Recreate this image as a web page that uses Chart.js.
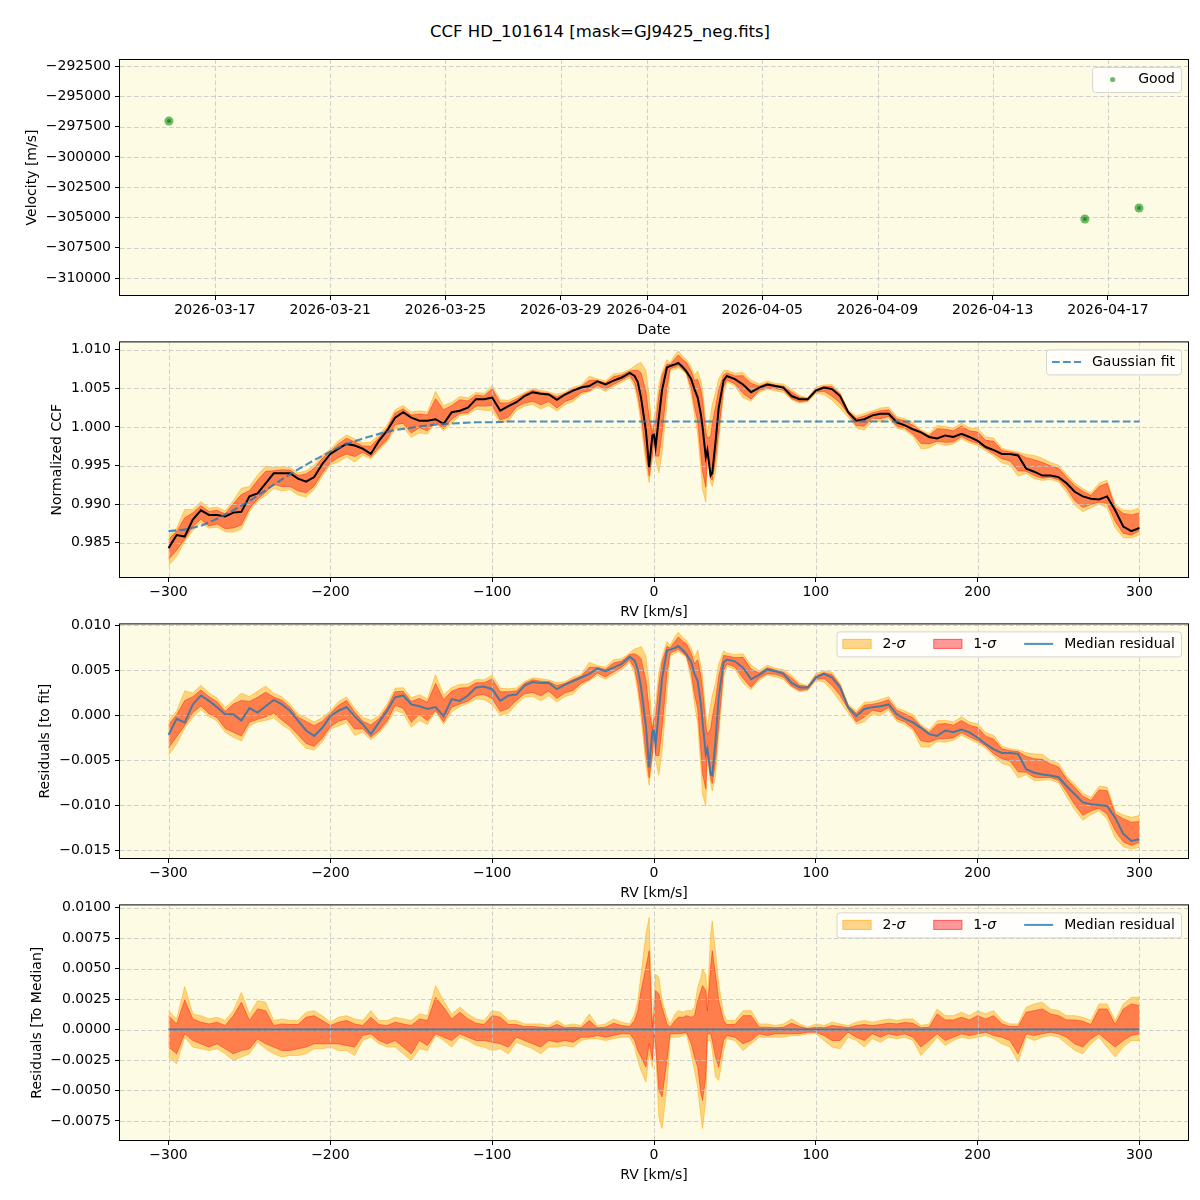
<!DOCTYPE html>
<html>
<head>
<meta charset="utf-8">
<title>CCF HD_101614</title>
<script src="https://cdn.jsdelivr.net/npm/chart.js@4.4.1/dist/chart.umd.min.js"></script>
<style>
    html, body { margin: 0; padding: 0; background: #fff; }
    body { position: relative; width: 1200px; height: 1200px; overflow: hidden; font-family: "DejaVu Sans", sans-serif; }
    #title { position: absolute; left: 0; top: 22px; width: 1200px; text-align: center; font-size: 16.5px; line-height: 20px; color: #000; }
    canvas { position: absolute; left: 0; }
</style>
</head>
<body>
<div id="title">CCF HD_101614 [mask=GJ9425_neg.fits]</div>
<canvas id="chart-rv" width="1200" height="340" style="top:0px"></canvas>
<canvas id="chart-ccf" width="1200" height="292" style="top:330px"></canvas>
<canvas id="chart-res" width="1200" height="291" style="top:612px"></canvas>
<canvas id="chart-med" width="1200" height="307" style="top:893px"></canvas>
<script>
// ---- top panel: epoch velocities ----
const obsDates = ['2026-03-15T09:36:00Z', '2026-04-16T04:48:00Z', '2026-04-18T01:55:00Z'];
const obsVelocity = [-297040, -305130, -304220];
const dateTicks = ['2026-03-17', '2026-03-21', '2026-03-25', '2026-03-29', '2026-04-01',
    '2026-04-05', '2026-04-09', '2026-04-13', '2026-04-17'];
const velocityTicks = [-292500, -295000, -297500, -300000, -302500, -305000, -307500, -310000];

// ---- CCF profile grid (km/s) ----
const rv = [
    -300, -295, -290, -285, -280, -275, -270, -265, -260, -255,
    -250, -245, -240, -235, -230, -225, -220, -215, -210, -205,
    -200, -195, -190, -185, -180, -175, -170, -165, -160, -155,
    -150, -145, -140, -135, -130, -125, -120, -115, -110, -105,
    -100, -95, -90, -85, -80, -75, -70, -65, -60, -55,
    -50, -45, -40, -35, -30, -25, -20, -15,
    -12, -10, -8, -5, -3, -1, 0, 1, 3, 5,
    8, 10, 13, 15, 18, 20, 23, 25, 27, 29,
    30, 32, 33, 35, 36, 38, 40, 43, 45,
    50, 55, 60, 65, 70, 75, 80, 85, 90, 95,
    100, 105, 110, 115, 120, 125, 130, 135, 140, 145,
    150, 155, 160, 165, 170, 175, 180, 185, 190, 195,
    200, 205, 210, 215, 220, 225, 230, 235, 240, 245,
    250, 255, 260, 265, 270, 275, 280, 285, 290, 295, 300
];

// median normalized CCF
const ccfMedian = [
    0.9843, 0.9860, 0.9858, 0.9880, 0.9892, 0.9886, 0.9886, 0.9884, 0.9889, 0.9890,
    0.9910, 0.9914, 0.9927, 0.9940, 0.9940, 0.9940, 0.9933, 0.9929, 0.9935, 0.9952,
    0.9965, 0.9972, 0.9978, 0.9976, 0.9972, 0.9965, 0.9982, 0.9995, 1.0012, 1.0019,
    1.0012, 1.0008, 1.0008, 1.0010, 1.0004, 1.0019, 1.0021, 1.0025, 1.0036, 1.0036,
    1.0038, 1.0021, 1.0027, 1.0032, 1.0040, 1.0045, 1.0043, 1.0042, 1.0035, 1.0042,
    1.0047, 1.0051, 1.0053, 1.0059, 1.0055, 1.0060, 1.0064, 1.0070,
    1.0066, 1.0058, 1.0038, 0.9995, 0.9948, 0.9989, 0.9990, 0.9974, 1.0012, 1.0048,
    1.0077, 1.0079, 1.0081, 1.0083, 1.0077, 1.0072, 1.0062, 1.0049, 1.0038, 1.0016,
    1.0000, 0.9961, 0.9970, 0.9937, 0.9940, 0.9980, 1.0025, 1.0060, 1.0066,
    1.0062, 1.0055, 1.0045, 1.0051, 1.0055, 1.0053, 1.0051, 1.0040, 1.0036, 1.0036,
    1.0047, 1.0051, 1.0049, 1.0040, 1.0019, 1.0008, 1.0010, 1.0015, 1.0017, 1.0017,
    1.0006, 1.0002, 0.9997, 0.9993, 0.9987, 0.9985, 0.9989, 0.9987, 0.9991, 0.9987,
    0.9982, 0.9974, 0.9970, 0.9965, 0.9965, 0.9963, 0.9946, 0.9942, 0.9937, 0.9937,
    0.9935, 0.9927, 0.9916, 0.9910, 0.9907, 0.9906, 0.9910, 0.9892, 0.9871, 0.9865, 0.9869
];

// gaussian fit, sampled every 10 km/s
const fitRv = [
    -300, -290, -280, -270, -260, -250, -240, -230, -220, -210,
    -200, -190, -180, -170, -160, -150, -140, -130, -120, -110,
    -100, -90, -80, -70, -60, -50, -40, -30, -20, -10,
    0, 10, 20, 30, 40, 50, 60, 70, 80, 90,
    100, 110, 120, 130, 140, 150, 160, 170, 180, 190,
    200, 210, 220, 230, 240, 250, 260, 270, 280, 290, 300
];
const fitCcf = [
    0.9865, 0.9867, 0.9872, 0.9881, 0.9892, 0.9904, 0.9918, 0.9932, 0.9945, 0.9957,
    0.9968, 0.9978, 0.9985, 0.9991, 0.9996, 0.9999, 1.0002, 1.0004, 1.0005, 1.0006,
    1.0006, 1.0007, 1.0007, 1.0007, 1.0007, 1.0007, 1.0007, 1.0007, 1.0007, 1.0007,
    1.0007, 1.0007, 1.0007, 1.0007, 1.0007, 1.0007, 1.0007, 1.0007, 1.0007, 1.0007,
    1.0007, 1.0007, 1.0007, 1.0007, 1.0007, 1.0007, 1.0007, 1.0007, 1.0007, 1.0007,
    1.0007, 1.0007, 1.0007, 1.0007, 1.0007, 1.0007, 1.0007, 1.0007, 1.0007, 1.0007, 1.0007
];

// median residual to the fit
const residualMedian = [
    -0.0022, -0.0004, -0.0008, 0.0012, 0.0022, 0.0016, 0.0009, 0.0001, 0.0001, -0.0006,
    0.0008, 0.0003, 0.0010, 0.0017, 0.0012, 0.0005, -0.0006, -0.0017, -0.0023, -0.0014,
    -0.0001, 0.0005, 0.0009, -0.0001, -0.0010, -0.0021, -0.0008, 0.0005, 0.0020, 0.0022,
    0.0012, 0.0010, 0.0007, 0.0009, -0.0001, 0.0018, 0.0016, 0.0022, 0.0031, 0.0032,
    0.0029, 0.0016, 0.0022, 0.0023, 0.0033, 0.0037, 0.0036, 0.0036, 0.0029, 0.0034,
    0.0038, 0.0042, 0.0046, 0.0052, 0.0049, 0.0053, 0.0057, 0.0065,
    0.0061, 0.0051, 0.0031, -0.0012, -0.0058, -0.0018, -0.0017, -0.0033, 0.0005, 0.0041,
    0.0072, 0.0073, 0.0075, 0.0077, 0.0072, 0.0068, 0.0059, 0.0046, 0.0038, 0.0012,
    -0.0007, -0.0043, -0.0037, -0.0066, -0.0067, -0.0029, 0.0020, 0.0059, 0.0062,
    0.0060, 0.0053, 0.0040, 0.0045, 0.0051, 0.0049, 0.0046, 0.0036, 0.0031, 0.0031,
    0.0042, 0.0046, 0.0042, 0.0031, 0.0009, -0.0001, 0.0007, 0.0009, 0.0010, 0.0012,
    0.0001, -0.0004, -0.0008, -0.0014, -0.0021, -0.0023, -0.0017, -0.0019, -0.0016, -0.0019,
    -0.0025, -0.0032, -0.0038, -0.0042, -0.0042, -0.0043, -0.0060, -0.0064, -0.0066, -0.0067,
    -0.0069, -0.0079, -0.0088, -0.0097, -0.0099, -0.0100, -0.0101, -0.0114, -0.0132, -0.0140, -0.0138
];

// spread around the median (bottom panel): 2-sigma / 1-sigma upper and lower edges
const sig2Hi = [
    .00155, .00087, .00352, .00128, .00114, .00087, .00101, .00074, .00155, .00305,
    .00128, .00237, .00224, .00074, .00087, .00074, .00074, .00142, .00155, .00114,
    .00060, .00101, .00114, .00087, .00074, .00155, .00074, .00074, .00101, .00087,
    .00074, .00128, .00114, .00360, .00237, .00128, .00183, .00128, .00087, .00074,
    .00155, .00142, .00074, .00074, .00046, .00046, .00046, .00033, .00074, .00033,
    .00046, .00033, .00128, .00033, .00046, .00087, .00060, .00046,
    .00128, .00237, .00455, .00782, .00919, .00046, .00237, .00455, .00428, .00237,
    .00101, .00046, .00128, .00155, .00142, .00155, .00155, .00183, .00346, .00428,
    .00496, .00455, .00237, .00782, .00891, .00646, .00373, .00128, .00074,
    .00074, .00155, .00155, .00046, .00046, .00033, .00046, .00087, .00046, .00019,
    .00046, .00033, .00060, .00046, .00033, .00060, .00074, .00060, .00074, .00087,
    .00074, .00087, .00087, .00033, .00046, .00169, .00114, .00114, .00142, .00114,
    .00155, .00128, .00155, .00074, .00046, .00046, .00183, .00210, .00224, .00169,
    .00155, .00114, .00114, .00101, .00074, .00210, .00210, .00074, .00210, .00264, .00264
];
const sig1Hi = [
    .00114, .00046, .00243, .00087, .00060, .00046, .00060, .00033, .00114, .00224,
    .00074, .00169, .00155, .00033, .00046, .00041, .00041, .00101, .00114, .00074,
    .00033, .00060, .00074, .00046, .00033, .00101, .00041, .00033, .00060, .00046,
    .00033, .00087, .00074, .00264, .00183, .00087, .00142, .00087, .00052, .00041,
    .00114, .00101, .00041, .00041, .00025, .00025, .00019, .00014, .00041, .00014,
    .00019, .00014, .00074, .00014, .00019, .00052, .00033, .00025,
    .00074, .00155, .00319, .00510, .00646, .00019, .00128, .00319, .00292, .00183,
    .00046, .00019, .00074, .00101, .00101, .00114, .00101, .00114, .00237, .00319,
    .00360, .00319, .00155, .00510, .00646, .00455, .00237, .00074, .00041,
    .00041, .00114, .00114, .00019, .00019, .00014, .00019, .00052, .00025, .00008,
    .00019, .00014, .00033, .00025, .00014, .00033, .00041, .00033, .00041, .00052,
    .00046, .00057, .00052, .00014, .00019, .00128, .00079, .00079, .00101, .00079,
    .00114, .00087, .00114, .00046, .00025, .00025, .00142, .00155, .00169, .00128,
    .00114, .00079, .00079, .00068, .00041, .00169, .00169, .00041, .00169, .00210, .00196
];
const sig1Lo = [
    -.00144, -.00199, -.00035, -.00090, -.00117, -.00144, -.00117, -.00158, -.00199, -.00172,
    -.00158, -.00076, -.00117, -.00144, -.00172, -.00172, -.00158, -.00144, -.00117, -.00117,
    -.00117, -.00117, -.00131, -.00144, -.00049, -.00035, -.00090, -.00117, -.00090, -.00144,
    -.00199, -.00090, -.00131, -.00035, -.00063, -.00090, -.00035, -.00063, -.00090, -.00090,
    -.00104, -.00117, -.00144, -.00063, -.00090, -.00117, -.00144, -.00090, -.00104, -.00090,
    -.00104, -.00063, -.00063, -.00049, -.00063, -.00049, -.00035, -.00035,
    -.00090, -.00172, -.00226, -.00308, -.00117, -.00254, -.00035, -.00117, -.00499, -.00553,
    -.00254, -.00035, -.00035, -.00035, -.00030, -.00022, -.00117, -.00226, -.00308, -.00526,
    -.00581, -.00390, -.00035, -.00035, -.00090, -.00226, -.00308, -.00090, -.00049,
    -.00063, -.00117, -.00090, -.00035, -.00049, -.00035, -.00035, -.00035, -.00035, -.00022,
    -.00022, -.00049, -.00090, -.00090, -.00022, -.00063, -.00090, -.00035, -.00063, -.00035,
    -.00049, -.00035, -.00063, -.00144, -.00090, -.00035, -.00090, -.00063, -.00035, -.00049,
    -.00035, -.00022, -.00049, -.00063, -.00090, -.00199, -.00035, -.00049, -.00035, -.00022,
    -.00035, -.00063, -.00117, -.00144, -.00076, -.00035, -.00090, -.00144, -.00090, -.00049, -.00035
];
const sig2Lo = [
    -.00226, -.00281, -.00063, -.00144, -.00158, -.00172, -.00158, -.00199, -.00254, -.00226,
    -.00199, -.00104, -.00158, -.00199, -.00226, -.00213, -.00213, -.00199, -.00158, -.00158,
    -.00144, -.00172, -.00172, -.00213, -.00090, -.00063, -.00117, -.00144, -.00144, -.00199,
    -.00254, -.00158, -.00172, -.00049, -.00090, -.00144, -.00063, -.00090, -.00131, -.00144,
    -.00172, -.00158, -.00199, -.00104, -.00131, -.00158, -.00199, -.00144, -.00144, -.00131,
    -.00144, -.00090, -.00076, -.00076, -.00090, -.00076, -.00063, -.00063,
    -.00144, -.00254, -.00335, -.00431, -.00199, -.00308, -.00063, -.00172, -.00717, -.00812,
    -.00472, -.00063, -.00063, -.00063, -.00049, -.00035, -.00199, -.00335, -.00472, -.00717,
    -.00812, -.00581, -.00090, -.00090, -.00172, -.00390, -.00417, -.00172, -.00076,
    -.00090, -.00172, -.00117, -.00063, -.00063, -.00063, -.00063, -.00049, -.00049, -.00035,
    -.00035, -.00090, -.00144, -.00158, -.00063, -.00090, -.00144, -.00076, -.00104, -.00063,
    -.00076, -.00063, -.00090, -.00213, -.00144, -.00063, -.00131, -.00090, -.00063, -.00076,
    -.00063, -.00049, -.00076, -.00117, -.00144, -.00267, -.00063, -.00090, -.00063, -.00049,
    -.00063, -.00117, -.00172, -.00199, -.00117, -.00063, -.00144, -.00226, -.00144, -.00090, -.00090
];

// median of the residuals to the median is flat
const medianRefRv = [-300, 300];
const medianRef = [0, 0];

const rvTicks = [-300, -200, -100, 0, 100, 200, 300];
const ccfTicks = [0.985, 0.990, 0.995, 1.000, 1.005, 1.010];
const resTicks = [-0.015, -0.010, -0.005, 0.000, 0.005, 0.010];
const medTicks = [-0.0075, -0.0050, -0.0025, 0.0000, 0.0025, 0.0050, 0.0075, 0.0100];

// ---- styling ----
const FONT = '"DejaVu Sans", "Liberation Sans", sans-serif';
const AX_BG = '#fdfbe3';
const GRID = '#c4c4c4';
const ORANGE = 'rgba(255,165,0,0.45)';
const RED = 'rgba(255,0,0,0.4)';
const BLUE = 'rgba(31,119,180,0.8)';
const GREEN = 'rgba(44,160,44,0.7)';
const FIT_DASH = [7.7, 3.3];

const DAY0 = Date.parse('2026-03-01T00:00:00Z');

function toDay(s) {
    const iso = s.length === 10 ? s + 'T00:00:00Z' : s;
    return (Date.parse(iso) - DAY0) / 864e5;
}

function fmt(v, digits) {
    const s = Math.abs(v).toFixed(digits);
    return (v < -1e-12 ? '\u2212' : '') + s;
}

function series(xs, ys) {
    return xs.map((x, i) => ({ x: x, y: ys[i] }));
}

// center + offset, center may be null (spread plotted around zero)
function shifted(center, off) {
    return rv.map((x, i) => ({ x: x, y: (center ? center[i] : 0) + off[i] }));
}

// per-chart extras that Chart.js should not proxy
const legends = {};
const gridAfter = {};

/**
 * Draw matplotlib-like dashed grid inside the plot area.
 */
function drawGrid(chart) {
    const ctx = chart.ctx;
    const a = chart.chartArea;
    const xs = chart.scales.x;
    const ys = chart.scales.y;
    ctx.save();
    ctx.beginPath();
    ctx.rect(a.left, a.top, a.right - a.left, a.bottom - a.top);
    ctx.clip();
    ctx.strokeStyle = GRID;
    ctx.lineWidth = 0.8;
    ctx.setLineDash([4.5, 2.5]);
    xs.ticks.forEach(function (t) {
        const px = Math.round(xs.getPixelForValue(t.value)) + 0.5;
        ctx.beginPath();
        ctx.moveTo(px, a.bottom);
        ctx.lineTo(px, a.top);
        ctx.stroke();
    });
    ys.ticks.forEach(function (t) {
        const py = Math.round(ys.getPixelForValue(t.value)) + 0.5;
        ctx.beginPath();
        ctx.moveTo(a.left, py);
        ctx.lineTo(a.right, py);
        ctx.stroke();
    });
    ctx.restore();
}

const mplAxes = {
    id: 'mplAxes',
    beforeDatasetsDraw(chart) {
        const ctx = chart.ctx;
        const a = chart.chartArea;
        ctx.save();
        ctx.fillStyle = AX_BG;
        ctx.fillRect(a.left, a.top, a.right - a.left, a.bottom - a.top);
        ctx.restore();
        if (gridAfter[chart.canvas.id] < 0) {
            drawGrid(chart);
        }
    },
    afterDatasetDraw(chart, args) {
        if (gridAfter[chart.canvas.id] === args.index) {
            drawGrid(chart);
        }
    },
    afterDatasetsDraw(chart) {
        const ctx = chart.ctx;
        const a = chart.chartArea;
        ctx.save();
        ctx.strokeStyle = '#000';
        ctx.lineWidth = 1;
        ctx.strokeRect(a.left - 0.5, a.top - 0.5, a.right - a.left + 1, a.bottom - a.top + 1);
        ctx.restore();
    }
};

// text runs: sigma in italic like mathtext
function runs(label) {
    return label.split(/(σ)/).filter(Boolean).map(t => ({ text: t, italic: t === 'σ' }));
}

function runsWidth(ctx, label) {
    let w = 0;
    runs(label).forEach(function (r) {
        ctx.font = (r.italic ? 'italic ' : '') + '14px ' + FONT;
        w += ctx.measureText(r.text).width;
    });
    return w;
}

function drawRuns(ctx, label, x, y) {
    runs(label).forEach(function (r) {
        ctx.font = (r.italic ? 'italic ' : '') + '14px ' + FONT;
        ctx.fillText(r.text, x, y);
        x += ctx.measureText(r.text).width;
    });
}

function roundRect(ctx, x, y, w, h, r) {
    ctx.beginPath();
    ctx.moveTo(x + r, y);
    ctx.lineTo(x + w - r, y);
    ctx.quadraticCurveTo(x + w, y, x + w, y + r);
    ctx.lineTo(x + w, y + h - r);
    ctx.quadraticCurveTo(x + w, y + h, x + w - r, y + h);
    ctx.lineTo(x + r, y + h);
    ctx.quadraticCurveTo(x, y + h, x, y + h - r);
    ctx.lineTo(x, y + r);
    ctx.quadraticCurveTo(x, y, x + r, y);
    ctx.closePath();
}

function drawHandle(ctx, it, x, y, w) {
    ctx.save();
    if (it.type === 'patch') {
        ctx.fillStyle = it.color;
        ctx.fillRect(x, y - 5, w, 10);
        ctx.strokeStyle = it.color;
        ctx.lineWidth = 1;
        ctx.strokeRect(x + 0.5, y - 4.5, w - 1, 9);
    } else if (it.type === 'dot') {
        ctx.fillStyle = it.color;
        ctx.beginPath();
        ctx.arc(x + w / 2, y, 2.6, 0, Math.PI * 2);
        ctx.fill();
    } else {
        ctx.strokeStyle = it.color;
        ctx.lineWidth = 2;
        ctx.setLineDash(it.type === 'dash' ? FIT_DASH : []);
        ctx.beginPath();
        ctx.moveTo(x, y);
        ctx.lineTo(x + w, y);
        ctx.stroke();
    }
    ctx.restore();
}

const mplLegend = {
    id: 'mplLegend',
    afterDraw(chart) {
        const items = legends[chart.canvas.id] || [];
        if (!items.length) {
            return;
        }
        const ctx = chart.ctx;
        const area = chart.chartArea;
        const handleW = 29, textGap = 11, colGap = 28, padX = 6, boxH = 25;
        ctx.save();
        const widths = items.map(it => runsWidth(ctx, it.label));
        let boxW = padX * 2;
        widths.forEach(function (w, i) {
            boxW += handleW + textGap + w + (i > 0 ? colGap : 0);
        });
        const right = area.right - 7;
        const top = area.top + 7;
        const left = right - boxW;
        const midY = top + boxH / 2;

        roundRect(ctx, left + 0.5, top + 0.5, boxW, boxH, 3);
        ctx.fillStyle = 'rgba(255,255,255,0.8)';
        ctx.fill();
        ctx.strokeStyle = 'rgba(204,204,204,0.8)';
        ctx.lineWidth = 1;
        ctx.stroke();

        let x = left + padX;
        items.forEach(function (it, i) {
            if (i > 0) {
                x += colGap;
            }
            drawHandle(ctx, it, x, midY, handleW);
            x += handleW + textGap;
            ctx.fillStyle = '#000';
            ctx.textBaseline = 'middle';
            ctx.textAlign = 'left';
            drawRuns(ctx, it.label, x, midY);
            x += widths[i];
        });
        ctx.restore();
    }
};

/**
 * Linear axis with fixed ticks and a fixed thickness.
 */
function axis(o) {
    return {
        type: 'linear',
        min: o.min,
        max: o.max,
        afterBuildTicks: function (scale) {
            scale.ticks = o.ticks.map(v => ({ value: v }));
        },
        afterFit: function (scale) {
            if (scale.isHorizontal()) {
                scale.height = 45;
            } else {
                scale.width = 120;
            }
        },
        ticks: {
            callback: o.label,
            autoSkip: false,
            maxRotation: 0,
            minRotation: 0,
            padding: o.pad,
            color: '#000',
            font: { family: FONT, size: 14 }
        },
        grid: { display: true, drawOnChartArea: false, drawTicks: true, tickLength: 5, tickColor: '#000', tickWidth: 1 },
        border: { display: false },
        title: {
            display: true,
            text: o.title,
            color: '#000',
            font: { family: FONT, size: 14 },
            padding: o.titlePad
        }
    };
}

function rvAxis() {
    return axis({
        min: -330, max: 330, ticks: rvTicks, pad: 2,
        label: v => fmt(v, 0), title: 'RV [km/s]', titlePad: { top: 0, bottom: 1.6 }
    });
}

function lineSet(data, color, width, order, extra) {
    return Object.assign({
        data: data,
        borderColor: color,
        backgroundColor: color,
        borderWidth: width,
        pointRadius: 0,
        fill: false,
        order: order
    }, extra || {});
}

function bandSets(center) {
    return [
        lineSet(shifted(center, sig2Hi), ORANGE, 1, 6),
        lineSet(shifted(center, sig2Lo), ORANGE, 1, 5, { fill: '-1' }),
        lineSet(shifted(center, sig1Hi), RED, 1, 4),
        lineSet(shifted(center, sig1Lo), RED, 1, 3, { fill: '-1' })
    ];
}

function makeChart(id, cfg) {
    legends[id] = cfg.legend;
    gridAfter[id] = cfg.gridAfter;
    // eslint-disable-next-line no-new
    new Chart(document.getElementById(id), {
        type: 'line',
        data: { datasets: cfg.datasets },
        options: {
            responsive: false,
            animation: false,
            devicePixelRatio: 1,
            events: [],
            layout: { padding: cfg.padding },
            elements: { line: { tension: 0 } },
            plugins: { legend: { display: false }, tooltip: { enabled: false }, title: { display: false } },
            scales: { x: cfg.x, y: cfg.y }
        },
        plugins: [mplAxes, mplLegend]
    });
}

const sigmaLegend = [
    { type: 'patch', color: ORANGE, label: '2-σ' },
    { type: 'patch', color: RED, label: '1-σ' },
    { type: 'line', color: BLUE, label: 'Median residual' }
];

// panel 1: velocity vs date
makeChart('chart-rv', {
    padding: { top: 60, right: 12, bottom: 0, left: 0 },
    gridAfter: -1,
    legend: [{ type: 'dot', color: GREEN, label: 'Good' }],
    datasets: [
        lineSet(series(obsDates.map(toDay), obsVelocity), 'rgba(0,100,0,0.55)', 0, 0,
            { showLine: false, pointRadius: 2, pointBorderWidth: 0, pointBackgroundColor: 'rgba(0,100,0,0.55)' }),
        lineSet(series(obsDates.map(toDay), obsVelocity), GREEN, 0, 1,
            { showLine: false, pointRadius: 4.5, pointBorderWidth: 0, pointBackgroundColor: GREEN })
    ],
    x: axis({
        min: 12.70, max: 49.78, ticks: dateTicks.map(toDay), pad: 2,
        label: (v, i) => dateTicks[i], title: 'Date', titlePad: { top: 0, bottom: 1.6 }
    }),
    y: axis({
        min: -311400, max: -292000, ticks: velocityTicks, pad: 4,
        label: v => fmt(v, 0), title: 'Velocity [m/s]', titlePad: { top: 23.6, bottom: 0 }
    })
});

// panel 2: normalized CCF
makeChart('chart-ccf', {
    padding: { top: 12, right: 12, bottom: 0, left: 0 },
    gridAfter: 3,
    legend: [{ type: 'dash', color: BLUE, label: 'Gaussian fit' }],
    datasets: bandSets(ccfMedian).concat([
        lineSet(series(rv, ccfMedian), '#000', 2, 2),
        lineSet(series(fitRv, fitCcf), BLUE, 2.1, 1, { borderDash: FIT_DASH })
    ]),
    x: rvAxis(),
    y: axis({
        min: 0.98056, max: 1.01095, ticks: ccfTicks, pad: 4,
        label: v => fmt(v, 3), title: 'Normalized CCF', titlePad: { top: 48.6, bottom: 0 }
    })
});

// panel 3: residuals to the fit
makeChart('chart-res', {
    padding: { top: 11, right: 12, bottom: 0, left: 0 },
    gridAfter: 3,
    legend: sigmaLegend,
    datasets: bandSets(residualMedian).concat([
        lineSet(series(rv, residualMedian), BLUE, 2, 1)
    ]),
    x: rvAxis(),
    y: axis({
        min: -0.01589, max: 0.01011, ticks: resTicks, pad: 4,
        label: v => fmt(v, 3), title: 'Residuals [to fit]', titlePad: { top: 36.6, bottom: 0 }
    })
});

// panel 4: residuals to the median
makeChart('chart-med', {
    padding: { top: 12, right: 12, bottom: 15, left: 0 },
    gridAfter: 3,
    legend: sigmaLegend,
    datasets: bandSets(null).concat([
        lineSet(series(medianRefRv, medianRef), BLUE, 2, 1)
    ]),
    x: rvAxis(),
    y: axis({
        min: -0.00906, max: 0.01018, ticks: medTicks, pad: 4,
        label: v => fmt(v, 4), title: 'Residuals [To Median]', titlePad: { top: 28.6, bottom: 0 }
    })
});
</script>
</body>
</html>
